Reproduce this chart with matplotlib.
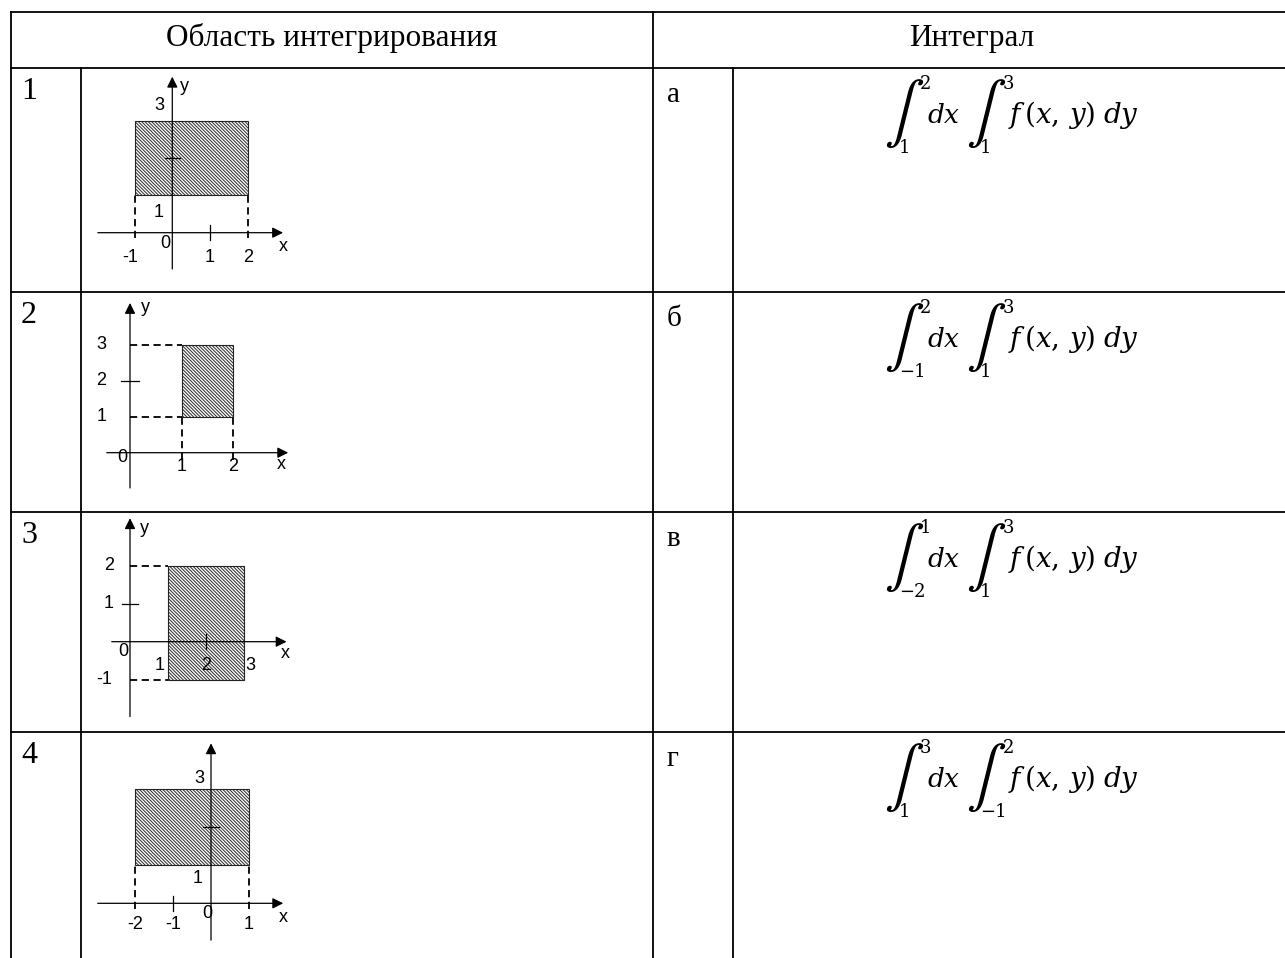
import matplotlib.pyplot as plt
from matplotlib.patches import Rectangle

plt.rcParams['hatch.linewidth'] = 0.75
plt.rcParams['mathtext.fontset'] = 'dejavuserif'

# table text
header = ['Область интегрирования', 'Интеграл']
row_nums = ['1', '2', '3', '4']
row_letters = ['а', 'б', 'в', 'г']

# integration regions: x range and y range
reg_x = [(-1, 2), (1, 2), (1, 3), (-2, 1)]
reg_y = [(1, 3), (1, 3), (-1, 2), (1, 3)]

# integral limits (outer over x, inner over y)
dx_lo = ['1', '−1', '−2', '1']
dx_hi = ['2', '2', '1', '3']
dy_lo = ['1', '1', '1', '−1']
dy_hi = ['3', '3', '3', '2']

W, H = 1285, 958
fig = plt.figure(figsize=(W / 100, H / 100), dpi=100)
ax = fig.add_axes([0, 0, 1, 1])
ax.set_xlim(0, W)
ax.set_ylim(H, 0)
ax.axis('off')

# ---- table grid ----
row_top = [68, 292, 512, 732]
lw_t = 1.3
ax.plot([11, W], [12, 12], color='k', lw=lw_t)
for y in row_top:
    ax.plot([11, W], [y, y], color='k', lw=lw_t)
ax.plot([11, 11], [12, H], color='k', lw=lw_t)
ax.plot([653, 653], [12, H], color='k', lw=lw_t)
ax.plot([81, 81], [68, H], color='k', lw=lw_t)
ax.plot([733, 733], [68, H], color='k', lw=lw_t)

serif = 'Liberation Serif'
ax.text(332, 46, header[0], ha='center', va='baseline', fontsize=22.5, family=serif)
ax.text(972, 46, header[1], ha='center', va='baseline', fontsize=22.5, family=serif)
for i, t in enumerate(row_top):
    ax.text(21, t + 31, row_nums[i], ha='left', va='baseline', fontsize=23, family=serif)
    ax.text(667, t + 34, row_letters[i], ha='left', va='baseline', fontsize=21, family=serif)

# ---- integrals ----
lim = dict(va='center', fontsize=13, family='DejaVu Serif')
for i, t in enumerate(row_top):
    base = t + 55
    ax.text(898, t + 46, '∫', ha='center', va='center', fontsize=43, family='STIXGeneral')
    ax.text(980, t + 46, '∫', ha='center', va='center', fontsize=43, family='STIXGeneral')
    ax.text(920, t + 16, dx_hi[i], ha='left', **lim)
    ax.text(899, t + 80, dx_lo[i], ha='left', **lim)
    ax.text(1003, t + 16, dy_hi[i], ha='left', **lim)
    ax.text(980, t + 80, dy_lo[i], ha='left', **lim)
    ax.text(927, base, r'$dx$', ha='left', va='baseline', fontsize=19)
    ax.text(1008, base, r'$f\,(x,\,y)\;dy$', ha='left', va='baseline', fontsize=20)

# ---- diagrams ----
sans = 'Liberation Sans'
dash = (0, (4, 2.5))


def diagram(box, origin, unit, xr, yr, xa, ya):
    l, t, r, b = box
    ox, oy = origin
    ux, uy = unit
    a = fig.add_axes([l / W, 1 - b / H, (r - l) / W, (b - t) / H])
    a.set_xlim((l - ox) / ux, (r - ox) / ux)
    a.set_ylim((oy - b) / uy, (oy - t) / uy)
    a.axis('off')
    a.add_patch(Rectangle((xr[0], yr[0]), xr[1] - xr[0], yr[1] - yr[0],
                          fill=False, hatch='\\' * 10, edgecolor='#333333', lw=0))
    a.add_patch(Rectangle((xr[0], yr[0]), xr[1] - xr[0], yr[1] - yr[0],
                          fill=False, edgecolor='#222222', lw=0.8))
    arr = dict(arrowstyle='-|>', color='k', lw=0.9, mutation_scale=16, shrinkA=0, shrinkB=0)
    a.annotate('', xy=(xa[1], 0), xytext=(xa[0], 0), arrowprops=arr)
    a.annotate('', xy=(0, ya[1]), xytext=(0, ya[0]), arrowprops=arr)
    return a


def labels(a, items, fs=13):
    for s, x, y in items:
        a.text(x, y, s, ha='center', va='center', fontsize=fs, family=sans)


# diagram 1
a = diagram((88, 70, 295, 288), (172.3, 232.7), (37.8, 37.4), reg_x[0], reg_y[0],
            (-1.97, 2.93), (-0.97, 4.17))
for xv in reg_x[0]:
    a.plot([xv, xv], [-0.15, reg_y[0][0]], color='k', lw=1.3, ls=dash)
a.plot([1, 1], [-0.2, 0.2], color='k', lw=0.9)
a.plot([-0.2, 0.2], [2, 2], color='k', lw=0.9)
labels(a, [('y', 0.33, 3.9), ('3', -0.35, 3.41), ('1', -0.35, 0.55), ('0', -0.19, -0.3),
           ('-1', -1.12, -0.65), ('1', 1, -0.65), ('2', 2, -0.65), ('x', 2.93, -0.38)])

# diagram 2
a = diagram((88, 294, 295, 508), (130, 452.7), (51.7, 36), reg_x[1], reg_y[1],
            (-0.45, 3.06), (-0.98, 4.16))
for yv in reg_y[1]:
    a.plot([0, reg_x[1][0]], [yv, yv], color='k', lw=1.3, ls=dash)
for xv in reg_x[1]:
    a.plot([xv, xv], [-0.2, reg_y[1][0]], color='k', lw=1.3, ls=dash)
a.plot([-0.17, 0.17], [2, 2], color='k', lw=0.9)
labels(a, [('y', 0.3, 4.02), ('3', -0.55, 3), ('2', -0.55, 2), ('1', -0.55, 1),
           ('0', -0.14, -0.12), ('1', 1, -0.39), ('2', 2, -0.39), ('x', 2.93, -0.34)])

# diagram 3
a = diagram((88, 514, 295, 728), (130, 641.7), (38, 38), reg_x[2], reg_y[2],
            (-0.48, 4.12), (-1.97, 3.25))
for yv in reg_y[2]:
    a.plot([0, reg_x[2][0]], [yv, yv], color='k', lw=1.3, ls=dash)
a.plot([-0.2, 0.2], [1, 1], color='k', lw=0.9)
a.plot([2, 2], [-0.2, 0.2], color='k', lw=0.9)
labels(a, [('y', 0.38, 2.98), ('2', -0.55, 2), ('1', -0.55, 1), ('-1', -0.68, -1),
           ('0', -0.18, -0.26), ('1', 0.79, -0.63), ('2', 2, -0.63), ('3', 3.16, -0.63),
           ('x', 4.08, -0.31)])

# diagram 4
a = diagram((88, 734, 295, 956), (211, 903.3), (38, 38), reg_x[3], reg_y[3],
            (-2.98, 1.9), (-0.97, 4.21))
for xv in reg_x[3]:
    a.plot([xv, xv], [-0.15, reg_y[3][0]], color='k', lw=1.3, ls=dash)
a.plot([-1, -1], [-0.2, 0.2], color='k', lw=0.9)
a.plot([-0.2, 0.2], [2, 2], color='k', lw=0.9)
labels(a, [('3', -0.31, 3.29), ('1', -0.36, 0.66), ('0', -0.11, -0.26), ('-2', -2, -0.57),
           ('-1', -1, -0.57), ('1', 1, -0.57), ('x', 1.9, -0.38)])

fig.savefig('out.png', dpi=100)
